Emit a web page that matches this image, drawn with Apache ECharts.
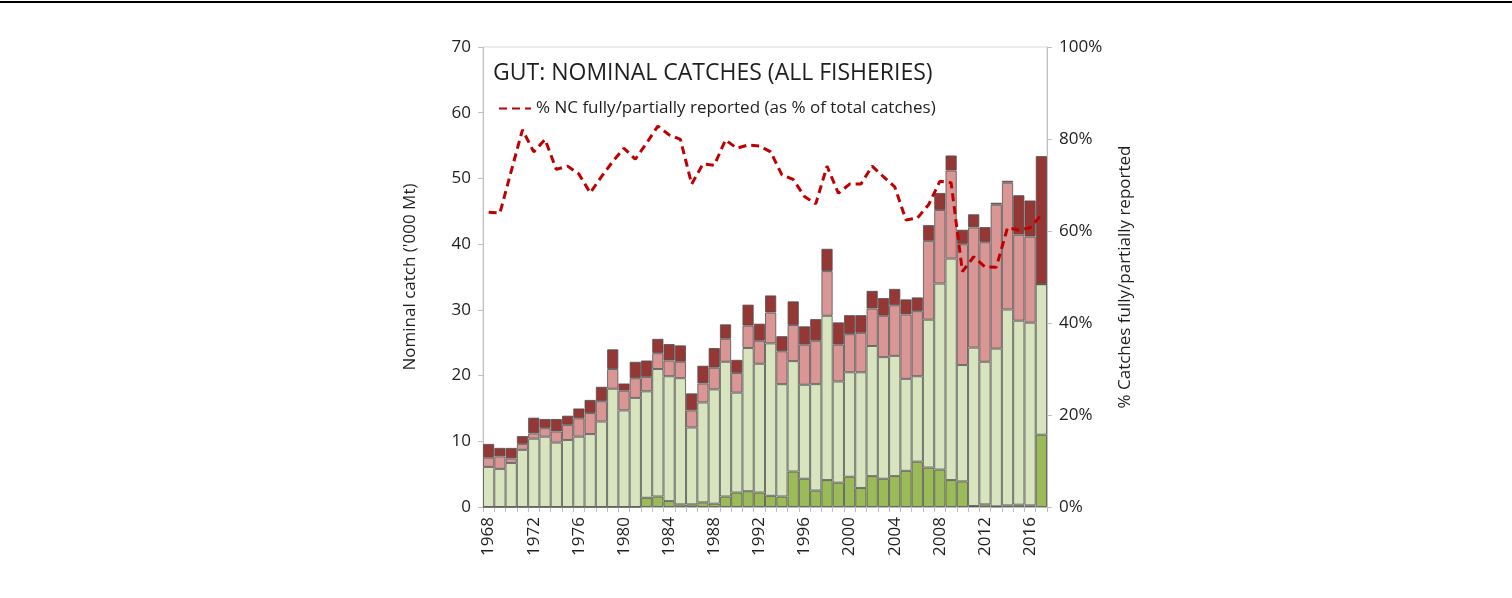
<!DOCTYPE html>
<html>
<head>
<meta charset="utf-8">
<script src="https://cdn.jsdelivr.net/npm/echarts@6/dist/echarts.min.js"></script>
<style>
  html, body { margin: 0; padding: 0; background: #fff; }
  #chart { width: 1512px; height: 598px; }
</style>
</head>
<body>
<div id="chart"></div>
<script>
/* ---------------- data ---------------- */
let years = [];
for (let y = 1968; y <= 2017; y++) years.push(String(y));

// '000 Mt, bottom to top of the stack
let fullyReported = [
    0, 0, 0, 0, 0, 0, 0, 0, 0, 0,
    0, 0, 0, 0, 1.4, 1.6, 0.9, 0.4, 0.4, 0.7,
    0.5, 1.6, 2.2, 2.4, 2.2, 1.7, 1.6, 5.4, 4.3, 2.5,
    4.1, 3.7, 4.6, 2.9, 4.7, 4.3, 4.7, 5.5, 6.9, 6.0,
    5.7, 4.1, 3.9, 0.15, 0.4, 0.1, 0.25, 0.35, 0.25, 11.0
];
let partlyReported = [
    6.1, 5.8, 6.7, 8.7, 10.4, 10.7, 9.8, 10.2, 10.7, 11.1,
    13.0, 18.0, 14.7, 16.6, 16.2, 19.4, 19.0, 19.2, 11.7, 15.2,
    17.4, 20.5, 15.2, 21.8, 19.6, 23.2, 17.1, 16.8, 14.3, 16.2,
    25.0, 15.4, 15.9, 17.6, 19.8, 18.5, 18.3, 14.0, 13.0, 22.5,
    28.3, 33.7, 17.7, 24.1, 21.7, 24.0, 29.8, 28.0, 27.8, 22.9
];
let partlyEstimated = [
    1.4, 1.9, 0.7, 0.9, 0.8, 1.3, 1.7, 2.3, 2.8, 3.2,
    3.1, 3.0, 3.0, 3.0, 2.2, 2.4, 2.4, 2.5, 2.6, 2.9,
    3.3, 3.5, 3.0, 3.4, 3.5, 4.7, 5.0, 5.5, 6.1, 6.6,
    6.8, 5.6, 5.8, 6.0, 5.7, 6.3, 7.7, 9.8, 9.9, 12.0,
    11.2, 13.4, 18.4, 18.3, 18.2, 21.9, 19.3, 13.1, 13.1, 0
];
let fullyEstimated = [
    2.1, 1.3, 1.6, 1.2, 2.4, 1.4, 1.9, 1.4, 1.5, 2.0,
    2.2, 3.0, 1.1, 2.5, 2.5, 2.2, 2.5, 2.5, 2.6, 2.7,
    3.0, 2.2, 2.0, 3.2, 2.6, 2.6, 2.3, 3.6, 2.8, 3.3,
    3.4, 3.4, 2.9, 2.7, 2.7, 2.7, 2.5, 2.3, 2.1, 2.4,
    2.6, 2.3, 2.2, 2.0, 2.3, 0.3, 0.3, 6.0, 5.5, 19.5
];
// % of total catches fully/partially reported
let pctReported = [
    64.1, 63.9, 73.0, 82.0, 77.2, 79.9, 73.4, 74.1, 72.4, 68.3,
    71.8, 75.1, 78.0, 75.6, 79.1, 82.8, 80.9, 79.9, 70.2, 74.6,
    74.3, 79.8, 78.0, 78.7, 78.5, 77.2, 72.2, 71.2, 67.5, 65.9,
    74.1, 68.2, 70.2, 70.2, 74.1, 71.8, 69.6, 62.4, 62.8, 65.7,
    70.8, 70.5, 51.2, 54.4, 52.2, 52.1, 60.7, 60.2, 60.7, 63.5
];

/* ---------------- chart ---------------- */
let font = "'Open Sans', 'Liberation Sans', sans-serif";
let labelColor = '#1f1f1f';
let axisGray = '#bfbfbf';
let lineName = '% NC fully/partially reported (as % of total catches)';

let barSeries = function (name, data, color) {
    return {
        name: name,
        type: 'bar',
        stack: 'catch',
        data: data,
        barCategoryGap: 0,
        itemStyle: {
            color: color,
            borderColor: 'rgba(80,80,80,0.8)',
            borderWidth: 1
        },
        emphasis: { disabled: true }
    };
};

let option = {
    animation: false,
    textStyle: { fontFamily: font },
    title: {
        text: 'GUT: NOMINAL CATCHES (ALL FISHERIES)',
        left: 488,
        top: 57,
        textStyle: { fontSize: 23, fontWeight: 'normal', color: labelColor, fontFamily: font }
    },
    legend: {
        data: [lineName],
        left: 493,
        top: 95,
        itemWidth: 32,
        itemHeight: 14,
        itemGap: 4,
        itemStyle: { opacity: 0 },
        textStyle: { fontSize: 17, color: labelColor, fontFamily: font }
    },
    grid: {
        left: 483,
        right: 465,
        top: 47,
        bottom: 91,
        show: true,
        borderColor: '#d9d9d9',
        borderWidth: 1
    },
    xAxis: {
        type: 'category',
        data: years,
        axisLine: { lineStyle: { color: axisGray } },
        axisTick: { show: true, interval: 0, length: 5, lineStyle: { color: axisGray } },
        axisLabel: {
            interval: 3,
            rotate: 90,
            fontSize: 17,
            color: labelColor,
            margin: 10
        }
    },
    yAxis: [
        {
            type: 'value',
            min: 0,
            max: 70,
            interval: 10,
            name: "Nominal catch ('000 Mt)",
            nameLocation: 'middle',
            nameRotate: 90,
            nameGap: 64,
            nameTextStyle: { fontSize: 17, color: labelColor },
            splitLine: { show: false },
            axisLine: { show: true, lineStyle: { color: axisGray } },
            axisTick: { show: true, length: 5, lineStyle: { color: axisGray } },
            axisLabel: { fontSize: 17, color: labelColor, margin: 12 }
        },
        {
            type: 'value',
            min: 0,
            max: 100,
            interval: 20,
            name: '% Catches fully/partially reported',
            nameLocation: 'middle',
            nameRotate: 90,
            nameGap: 70,
            nameTextStyle: { fontSize: 17, color: labelColor },
            splitLine: { show: false },
            axisLine: { show: true, lineStyle: { color: axisGray } },
            axisTick: { show: true, length: 5, lineStyle: { color: axisGray } },
            axisLabel: { fontSize: 17, color: labelColor, margin: 12, formatter: '{value}%' }
        }
    ],
    series: [
        barSeries('Fully reported', fullyReported, '#9bbb59'),
        barSeries('Partly reported', partlyReported, '#d7e4bd'),
        barSeries('Partly estimated', partlyEstimated, '#d99694'),
        barSeries('Fully estimated', fullyEstimated, '#953735'),
        {
            name: lineName,
            type: 'line',
            yAxisIndex: 1,
            data: pctReported,
            symbol: 'none',
            z: 10,
            lineStyle: { color: '#c00000', width: 3, type: [8, 5] },
            itemStyle: { color: '#c00000' },
            emphasis: { disabled: true }
        }
    ],
    graphic: [
        {
            type: 'rect',
            shape: { x: 0, y: 1, width: 1512, height: 2 },
            style: { fill: '#000' }
        }
    ]
};

echarts.init(document.getElementById('chart')).setOption(option);
</script>
</body>
</html>
